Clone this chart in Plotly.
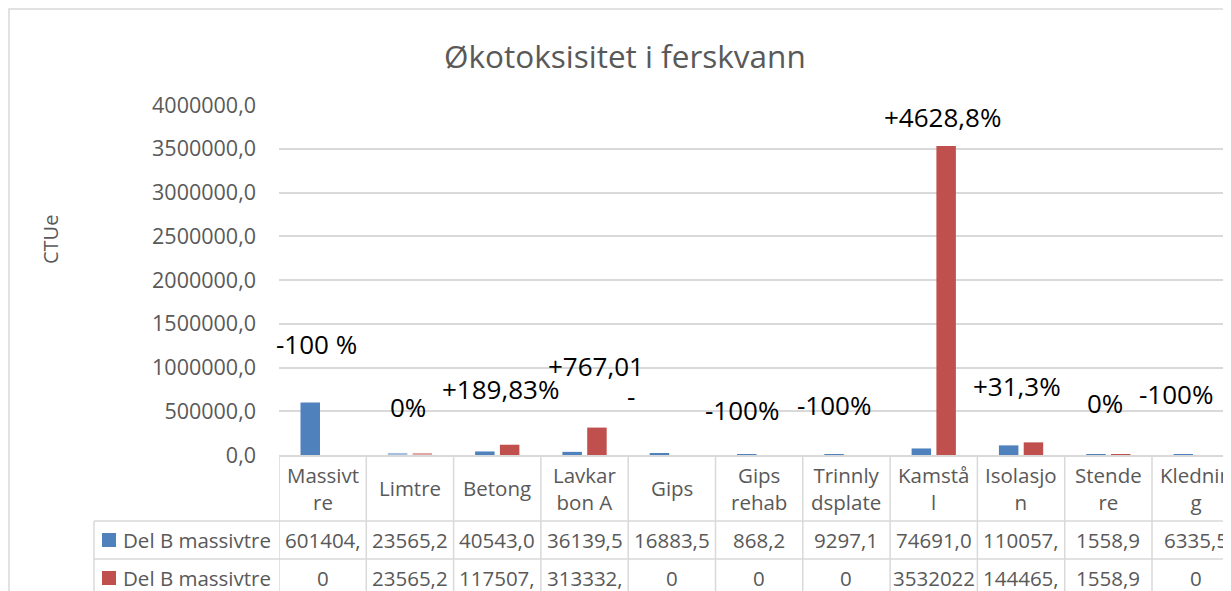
import plotly.graph_objects as go

# ---------------- data ----------------
categories = ["Massivtre", "Limtre", "Betong", "Lavkarbon A", "Gips", "Gips rehab",
              "Trinnlydsplate", "Kamstål", "Isolasjon", "Stendere", "Kledning"]
header_labels = ["Massivt<br>re", "Limtre", "Betong", "Lavkar<br>bon A", "Gips", "Gips<br>rehab",
                 "Trinnly<br>dsplate", "Kamstå<br>l", "Isolasjo<br>n", "Stende<br>re", "Klednin<br>g"]
series_names = ["Del B massivtre", "Del B massivtre"]
blue_values = [601404, 23565.2, 40543.0, 36139.5, 16883.5, 868.2, 9297.1, 74691.0, 110057, 1558.9, 6335.5]
red_values = [0, 23565.2, 117507, 313332, 0, 0, 0, 3532022, 144465, 1558.9, 0]
blue_table = ["601404,", "23565,2", "40543,0", "36139,5", "16883,5", "868,2", "9297,1",
              "74691,0", "110057,", "1558,9", "6335,5"]
red_table = ["0", "23565,2", "117507,", "313332,", "0", "0", "0", "3532022", "144465,", "1558,9", "0"]
y_ticks = [0, 500000, 1000000, 1500000, 2000000, 2500000, 3000000, 3500000, 4000000]
y_tick_labels = ["0,0", "500000,0", "1000000,0", "1500000,0", "2000000,0", "2500000,0",
                 "3000000,0", "3500000,0", "4000000,0"]
change_labels = ["-100 %", "0%", "+189,83%", "+767,01", "-", "-100%", "-100%",
                 "+4628,8%", "+31,3%", "0%", "-100%"]
label_values = [1270000, 548000, 754000, 1017000, 680000, 514000, 571000,
                3863000, 789000, 594000, 697000]

# ---------------- layout constants ----------------
OFF = 8                      # page body margin
W, H = 1231 - OFF, 591 - OFF
L = 279 - OFF                # plot left (figure px)
T = 105 - OFF                # plot top
B = H - (455 - OFF)          # plot bottom margin
PW = W - L
PH = H - T - B
COL = 87.3
GRID = "#d9d9d9"
TXT = "#595959"
FONT = "Open Sans"

# label placement (category index offsets, px)
label_dx = [-6.6, -2, 3, 11.5, -41, -17, -12, 9, -4, -3, -20]


def px2x(px):
    """reference-screen px -> paper x"""
    return (px - OFF - L) / PW


def py2y(py):
    """reference-screen px -> paper y"""
    return (H - B - (py - OFF)) / PH


blue_colors = ["#4f81bd"] * len(categories)
red_colors = ["#c0504d"] * len(categories)
blue_colors[1] = "#a7bfde"
red_colors[1] = "#dfa7a6"

idx = list(range(len(categories)))

fig = go.Figure()
fig.add_trace(go.Bar(x=idx, y=blue_values, name=series_names[0], marker=dict(color=blue_colors, line=dict(width=0))))
fig.add_trace(go.Bar(x=idx, y=red_values, name=series_names[1], marker=dict(color=red_colors, line=dict(width=0))))

ann = []
# title
ann.append(dict(text="Økotoksisitet i ferskvann", xref="paper", yref="paper", x=px2x(625), y=py2y(55),
                xanchor="center", yanchor="middle", showarrow=False, font=dict(family=FONT, size=31.5, color=TXT)))
# y-axis title
ann.append(dict(text="CTUe", xref="paper", yref="paper", x=px2x(50), y=py2y(240), textangle=-90,
                xanchor="center", yanchor="middle", showarrow=False, font=dict(family=FONT, size=20, color=TXT)))
# change labels
for i, (t, v) in enumerate(zip(change_labels, label_values)):
    ann.append(dict(text=t, xref="x", yref="y", x=i + label_dx[i] / COL, y=v, xanchor="center", yanchor="middle",
                    showarrow=False, font=dict(family=FONT, size=26, color="#000000")))
# table header
for i, h in enumerate(header_labels):
    ann.append(dict(text=h, xref="x", yref="paper", x=i, y=py2y(488), xanchor="center", yanchor="middle",
                    showarrow=False, font=dict(family=FONT, size=20.5, color=TXT)))
# table rows
for row_vals, yc in ((blue_table, 540), (red_table, 578)):
    for i, s in enumerate(row_vals):
        ann.append(dict(text=s, xref="x", yref="paper", x=i, y=py2y(yc), xanchor="center", yanchor="middle",
                        showarrow=False, font=dict(family=FONT, size=20.5, color=TXT)))
for name, yc in zip(series_names, (540, 578)):
    ann.append(dict(text=name, xref="paper", yref="paper", x=px2x(121), y=py2y(yc), xanchor="left",
                    yanchor="middle", showarrow=False, font=dict(family=FONT, size=20.5, color=TXT)))

shapes = []
# outer chart border
shapes.append(dict(type="rect", xref="paper", yref="paper", x0=px2x(9), y0=py2y(620), x1=px2x(1260), y1=py2y(9),
                   line=dict(color=GRID, width=1.5), fillcolor="rgba(0,0,0,0)", layer="below"))
# table horizontal lines
for yy in (521, 559, 597):
    shapes.append(dict(type="line", xref="paper", yref="paper", x0=px2x(94), x1=px2x(1260), y0=py2y(yy), y1=py2y(yy),
                       line=dict(color=GRID, width=1.5)))
# table vertical lines
for i in range(len(categories) + 1):
    shapes.append(dict(type="line", xref="x", yref="paper", x0=i - 0.5, x1=i - 0.5, y0=py2y(455), y1=py2y(600),
                       line=dict(color=GRID, width=1.5)))
shapes.append(dict(type="line", xref="paper", yref="paper", x0=px2x(94), x1=px2x(94), y0=py2y(521), y1=py2y(600),
                   line=dict(color=GRID, width=1.5)))
# legend keys
for col, yc in (("#4f81bd", 540), ("#c0504d", 578)):
    shapes.append(dict(type="rect", xref="paper", yref="paper", x0=px2x(102), x1=px2x(116), y0=py2y(yc + 7),
                       y1=py2y(yc - 7), fillcolor=col, line=dict(width=0)))

fig.update_layout(
    width=W, height=H,
    margin=dict(l=L, r=0, t=T, b=B, pad=0),
    paper_bgcolor="white", plot_bgcolor="white",
    barmode="group", bargap=0.432, bargroupgap=0.214,
    showlegend=False,
    annotations=ann, shapes=shapes,
    xaxis=dict(type="linear", range=[-0.5, -0.5 + PW / COL], showticklabels=False, showgrid=False,
               zeroline=False, showline=True, linecolor=GRID, linewidth=1.5, fixedrange=True),
    yaxis=dict(range=[0, 4000000], tickvals=y_ticks, ticktext=y_tick_labels, showgrid=True,
               gridcolor=GRID, gridwidth=1.5, zeroline=False, showline=False, ticks="",
               ticklabelstandoff=22, tickfont=dict(family=FONT, size=21.5, color=TXT), fixedrange=True),
)

fig.write_html("out.html", config={"displayModeBar": False})
